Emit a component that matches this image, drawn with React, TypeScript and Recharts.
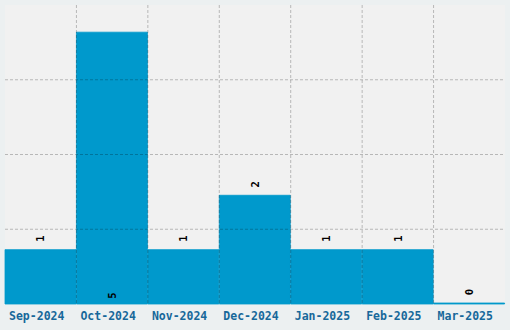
import { BarChart, Bar, XAxis, YAxis, CartesianGrid, LabelList } from 'recharts';

const months = ['Sep-2024', 'Oct-2024', 'Nov-2024', 'Dec-2024', 'Jan-2025', 'Feb-2025', 'Mar-2025'];
const counts = [1, 5, 1, 2, 1, 1, 0];
const yTicks = [1.375, 2.75, 4.125];
const yMax = 5.5;

const data = months.map((name, i) => ({ name, value: counts[i] }));
const maxValue = Math.max(...counts);

const MONO = '"DejaVu Sans Mono", monospace';
const W = 510;
const H = 330;
const MARGIN = { top: 5, right: 5, bottom: 0, left: 5 };
const AXIS_H = 26;

// rotated count above the bar, the tallest one gets it at its foot instead
const ValueLabel = (props: any) => {
  const { x, y, width, height, value } = props;
  const cx = x + width / 2;
  const cy = value === maxValue ? y + height - 8.5 : y - 11;
  return (
    <text
      x={cx}
      y={cy}
      transform={`rotate(-90, ${cx}, ${cy})`}
      textAnchor="middle"
      dominantBaseline="central"
      fontFamily={MONO}
      fontWeight="bold"
      fontSize={10.5}
      fill="#000"
    >
      {value}
    </text>
  );
};

// grid lines sit on the month edges, not the centres
const edgeLines = ({ offset }: any) =>
  months.slice(1).map((_, i) => offset.left + ((i + 1) * offset.width) / months.length);

const rowLines = ({ offset }: any) =>
  yTicks.map((t) => offset.top + offset.height * (1 - t / yMax));

export default function App() {
  return (
    <div style={{ position: 'absolute', left: 0, top: 0, width: W, height: H, background: '#ecf0f1' }}>
      <BarChart width={W} height={H} data={data} barCategoryGap={0} margin={MARGIN}>
        <CartesianGrid horizontal={false} vertical={false} fill="#f1f1f1" />
        <XAxis
          dataKey="name"
          height={AXIS_H}
          tickLine={false}
          axisLine={false}
          interval={0}
          tick={{ fill: '#17689a', fontFamily: MONO, fontWeight: 'bold', fontSize: 11.5, dx: -4 }}
        />
        <YAxis hide domain={[0, yMax]} ticks={yTicks} />
        <Bar
          dataKey="value"
          fill="#0099cc"
          stroke="#0099cc"
          strokeWidth={0.8}
          minPointSize={1}
          isAnimationActive={false}
        >
          <LabelList dataKey="value" content={ValueLabel} />
        </Bar>
      </BarChart>

      {/* dashed grid laid over the bars */}
      <div style={{ position: 'absolute', left: 0, top: 0, pointerEvents: 'none' }}>
        <BarChart
          width={W}
          height={H}
          data={data}
          margin={{ ...MARGIN, bottom: MARGIN.bottom + AXIS_H }}
        >
          <XAxis dataKey="name" hide />
          <YAxis hide domain={[0, yMax]} ticks={yTicks} />
          <CartesianGrid
            fill="none"
            stroke="rgba(0,0,0,0.24)"
            strokeDasharray="3 2"
            verticalCoordinatesGenerator={edgeLines}
            horizontalCoordinatesGenerator={rowLines}
          />
        </BarChart>
      </div>
    </div>
  );
}
